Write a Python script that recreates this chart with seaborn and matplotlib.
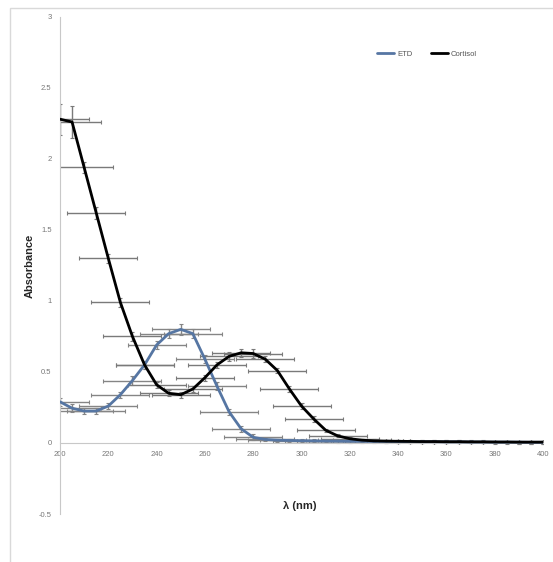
import numpy as np
import pandas as pd
import matplotlib
matplotlib.use("Agg")
import matplotlib.pyplot as plt
import seaborn as sns
from matplotlib.patches import Rectangle

# ================================================
# DATA
# ================================================
wavelength = [200, 205, 210, 215, 220, 225, 230, 235, 240, 245,
              250, 255, 260, 265, 270, 275, 280, 285, 290, 295,
              300, 305, 310, 315, 320, 325, 330, 335, 340, 345,
              350, 355, 360, 365, 370, 375, 380, 385, 390, 395, 400]

etd = [0.29, 0.245, 0.225, 0.225, 0.26, 0.34, 0.44, 0.55, 0.69, 0.77,
       0.80, 0.77, 0.59, 0.40, 0.22, 0.10, 0.04, 0.025, 0.02, 0.018,
       0.016, 0.015, 0.014, 0.013, 0.012, 0.012, 0.011, 0.011, 0.010, 0.010,
       0.009, 0.009, 0.008, 0.008, 0.007, 0.007, 0.006, 0.006, 0.006, 0.005, 0.005]

cortisol = [2.28, 2.26, 1.94, 1.62, 1.30, 0.99, 0.75, 0.55, 0.41, 0.35,
            0.34, 0.38, 0.46, 0.55, 0.61, 0.635, 0.63, 0.59, 0.51, 0.38,
            0.26, 0.17, 0.09, 0.05, 0.03, 0.02, 0.015, 0.013, 0.012, 0.011,
            0.010, 0.010, 0.009, 0.009, 0.008, 0.008, 0.007, 0.007, 0.006, 0.006, 0.006]

etd_yerr = [0.03, 0.03, 0.02, 0.02, 0.02, 0.02, 0.03, 0.03, 0.03, 0.03,
            0.04, 0.03, 0.03, 0.03, 0.02, 0.02, 0.02, 0.01, 0.01, 0.01,
            0.01, 0.01, 0.01, 0.01, 0.01, 0.01, 0.01, 0.01, 0.01, 0.01,
            0.01, 0.01, 0.01, 0.01, 0.01, 0.01, 0.01, 0.01, 0.01, 0.01, 0.01]

cortisol_yerr = [0.11, 0.11, 0.04, 0.04, 0.03, 0.03, 0.03, 0.03, 0.02, 0.02,
                 0.02, 0.02, 0.02, 0.02, 0.03, 0.03, 0.03, 0.02, 0.02, 0.02,
                 0.02, 0.02, 0.01, 0.01, 0.01, 0.01, 0.01, 0.01, 0.01, 0.01,
                 0.01, 0.01, 0.01, 0.01, 0.01, 0.01, 0.01, 0.01, 0.01, 0.01, 0.01]

# horizontal error bars (nm) only on the first part of the scan
etd_xerr = [12] * 27 + [0] * 14
cortisol_xerr = [12] * 27 + [0] * 14

df = pd.DataFrame({
    "wavelength": wavelength * 2,
    "absorbance": etd + cortisol,
    "series": ["ETD"] * len(etd) + ["Cortisol"] * len(cortisol),
})

# ================================================
# PLOT
# ================================================
sns.set_style("white")
plt.rcParams["font.family"] = ["Liberation Sans", "DejaVu Sans"]

blue = "#5676a3"
fig = plt.figure(figsize=(5.53, 5.62), dpi=100)
ax = fig.add_axes([0.1085, 0.0854, 0.8735, 0.8845])

# error bars first, lines on top
ax.errorbar(wavelength, etd, yerr=etd_yerr, xerr=etd_xerr, fmt="none",
            ecolor="#858585", elinewidth=1.0, capsize=1.5, capthick=0.8, zorder=2)
ax.errorbar(wavelength, cortisol, yerr=cortisol_yerr, xerr=cortisol_xerr, fmt="none",
            ecolor="#7a7a7a", elinewidth=1.0, capsize=1.5, capthick=0.8, zorder=2)

sns.lineplot(data=df, x="wavelength", y="absorbance", hue="series",
             palette={"ETD": blue, "Cortisol": "black"}, linewidth=2.0,
             ax=ax, zorder=3)

ax.set_xlim(200, 400)
ax.set_ylim(-0.5, 3)
ax.set_xticks(range(200, 401, 20))
ax.set_yticks([-0.5, 0, 0.5, 1, 1.5, 2, 2.5, 3])
ax.set_yticklabels(["-0.5", "0", "0.5", "1", "1.5", "2", "2.5", "3"])

ax.spines["bottom"].set_position(("data", 0))
ax.spines["left"].set_position(("data", 200))
ax.spines["top"].set_visible(False)
ax.spines["right"].set_visible(False)
for s in ["bottom", "left"]:
    ax.spines[s].set_color("#c8c8c8")
    ax.spines[s].set_linewidth(0.8)

ax.tick_params(axis="both", length=0, labelsize=5.5, colors="#777777", pad=6)

ax.set_xlabel("λ (nm)", fontsize=8, fontweight="bold")
ax.set_ylabel("Absorbance", fontsize=8, fontweight="bold", labelpad=3)
ax.xaxis.set_label_coords(0.497, 0.026)

leg = ax.legend(loc="center", bbox_to_anchor=(0.76, 0.925), ncol=2, frameon=False,
                fontsize=5.5, handlelength=2.2, columnspacing=2.5, handletextpad=0.4)
for t in leg.get_texts():
    t.set_color("#555555")

# light chart-area border like the original spreadsheet chart
fig.add_artist(Rectangle((0.018, -0.01), 0.99, 0.996, transform=fig.transFigure,
                         fill=False, edgecolor="#d9d9d9", linewidth=1.0))

plt.savefig("out.png", dpi=100)
